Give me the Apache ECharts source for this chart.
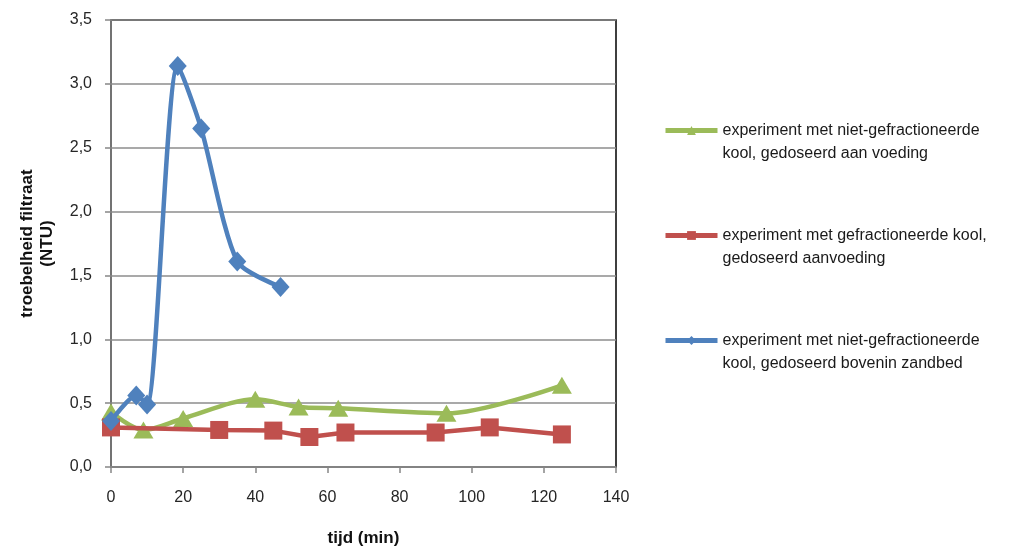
<!DOCTYPE html>
<html>
<head>
<meta charset="utf-8">
<script src="https://cdn.jsdelivr.net/npm/echarts@6/dist/echarts.min.js"></script>
<style>
  html, body { margin: 0; padding: 0; background: #fff; }
  #chart { width: 1011px; height: 552px; }
</style>
</head>
<body>
<div id="chart"></div>
<script>
// Turbidity of the filtrate over time, three dosing experiments
const seriesNames = [
  'experiment met niet-gefractioneerde\nkool, gedoseerd aan voeding',
  'experiment met gefractioneerde kool,\ngedoseerd aanvoeding',
  'experiment met niet-gefractioneerde\nkool, gedoseerd bovenin zandbed'
];

// time (min) / turbidity (NTU)
const greenTime = [0, 9, 20, 40, 52, 63, 93, 125];
const greenNtu  = [0.43, 0.29, 0.38, 0.53, 0.47, 0.46, 0.42, 0.64];

const redTime = [0, 30, 45, 55, 65, 90, 105, 125];
const redNtu  = [0.31, 0.29, 0.285, 0.235, 0.27, 0.27, 0.31, 0.255];

const blueTime = [0, 7, 10, 18.5, 25, 35, 47];
const blueNtu  = [0.36, 0.56, 0.49, 3.14, 2.65, 1.61, 1.41];

const xTicks = { min: 0, max: 140, interval: 20 };
const yTicks = { min: 0, max: 3.5, interval: 0.5 };

const pair = (xs, ys) => xs.map((x, i) => [x, ys[i]]);
const font = 'Liberation Sans, Arial, sans-serif';

const chart = echarts.init(document.getElementById('chart'), null, { renderer: 'canvas' });

chart.setOption({
  animation: false,
  backgroundColor: '#fff',
  grid: {
    left: 111, top: 20, width: 505, height: 453,
    show: true, borderColor: '#000', borderWidth: 1.5, backgroundColor: 'transparent'
  },
  legend: {
    orient: 'vertical',
    left: 663,
    top: 96,
    padding: 0,
    itemWidth: 52,
    itemHeight: 11,
    itemGap: 36,
    lineStyle: { width: 5 },
    textStyle: {
      fontFamily: font,
      fontSize: 16,
      color: '#1a1a1a',
      lineHeight: 23
    },
    // an empty first line keeps the icon level with the first text line
    formatter: name => '\n' + name,
    data: seriesNames
  },
  xAxis: {
    type: 'value',
    min: xTicks.min, max: xTicks.max, interval: xTicks.interval,
    name: 'tijd (min)',
    nameLocation: 'middle',
    nameGap: 63,
    nameTextStyle: { fontFamily: font, fontSize: 17, fontWeight: 'bold', color: '#111' },
    axisLine: { show: true, lineStyle: { color: '#868686', width: 1.5 } },
    axisTick: { show: true, length: 6, lineStyle: { color: '#868686', width: 1.5 } },
    axisLabel: { fontFamily: font, fontSize: 16, color: '#262626', margin: 23 },
    splitLine: { show: false }
  },
  yAxis: {
    type: 'value',
    min: yTicks.min, max: yTicks.max, interval: yTicks.interval,
    name: 'troebelheid filtraat\n(NTU)',
    nameLocation: 'middle',
    nameGap: 54,
    nameTextStyle: { fontFamily: font, fontSize: 17, fontWeight: 'bold', color: '#111', lineHeight: 20 },
    axisLine: { show: true, lineStyle: { color: '#868686', width: 1.5 } },
    axisTick: { show: true, length: 6, lineStyle: { color: '#868686', width: 1.5 } },
    axisLabel: {
      fontFamily: font, fontSize: 16, color: '#262626', margin: 19,
      formatter: v => v.toFixed(1).replace('.', ',')
    },
    splitLine: { show: true, lineStyle: { color: '#8c8c8c', width: 1.5 } }
  },
  series: [
    {
      name: seriesNames[0],
      type: 'line',
      smooth: 0.3,
      data: pair(greenTime, greenNtu),
      symbol: 'triangle',
      symbolSize: [20, 17],
      itemStyle: { color: '#9bbb59' },
      lineStyle: { color: '#9bbb59', width: 4.5 },
      z: 2
    },
    {
      name: seriesNames[1],
      type: 'line',
      smooth: false,
      data: pair(redTime, redNtu),
      symbol: 'rect',
      symbolSize: 18,
      itemStyle: { color: '#c0504d' },
      lineStyle: { color: '#c0504d', width: 4.5 },
      z: 3
    },
    {
      name: seriesNames[2],
      type: 'line',
      smooth: 0.25,
      data: pair(blueTime, blueNtu),
      symbol: 'diamond',
      symbolSize: [18, 20],
      itemStyle: { color: '#4f81bd' },
      lineStyle: { color: '#4f81bd', width: 4.5 },
      z: 4
    }
  ]
});
</script>
</body>
</html>
